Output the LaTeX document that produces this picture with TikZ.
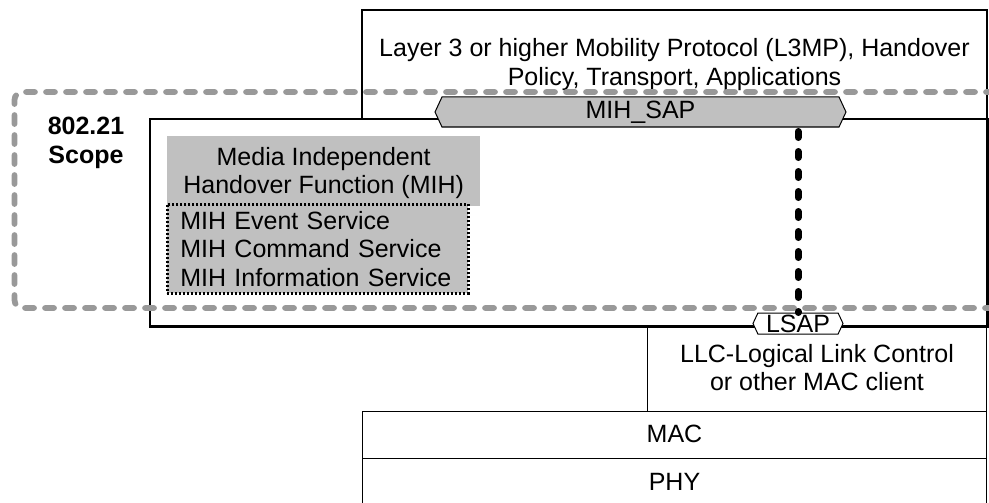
\documentclass[tikz,border=0pt]{standalone}
\usepackage{fontspec}
\setmainfont{Liberation Sans}
\usetikzlibrary{shapes.symbols}
\definecolor{boxgray}{HTML}{C0C0C0}
\definecolor{scopegray}{HTML}{999999}
\tikzset{
  lbl/.style={font=\fontsize{25}{28.5}\selectfont, align=center, inner sep=0pt},
  thickbox/.style={draw=black, line width=2pt, fill=white, inner sep=0pt, anchor=north west},
  thinbox/.style={draw=black, line width=1pt, fill=white, inner sep=0pt, anchor=north west},
  sapshape/.style={signal, signal to=west and east, signal pointer angle=130,
     draw=black, line width=1pt, inner sep=0pt,
     font=\fontsize{25}{28.5}\selectfont},
  scopeline/.style={draw=scopegray, line width=5.7pt, line cap=round, dash pattern=on 9pt off 11pt, rounded corners=8pt},
  linkline/.style={draw=black, line width=7pt, line cap=round, dash pattern=on 6pt off 14pt},
}
\begin{document}
\begin{tikzpicture}[x=1pt,y=-1pt]
\useasboundingbox (0,0) rectangle (989,503);
% top box
\node[thickbox, minimum width=625pt, minimum height=109pt] (top) at (361,9) {};
\node[lbl] (toptext) at (top.center) {Layer 3 or higher Mobility Protocol (L3MP), Handover\\Policy, Transport, Applications};
% main box
\node[thickbox, minimum width=837pt, minimum height=207pt] (main) at (149,118) {};
% LLC, MAC, PHY
\node[thinbox, minimum width=339pt, minimum height=86pt] (llc) at (647,325) {};
\node[lbl] (llctext) at ([yshift=1pt]llc.center) {LLC-Logical Link Control\\or other MAC client};
\node[thinbox, minimum width=624pt, minimum height=47pt] (mac) at (362,411) {};
\node[lbl] (mactext) at ([yshift=1.5pt]mac.center) {MAC};
\node[thinbox, minimum width=624pt, minimum height=46pt] (phy) at (362,458) {};
\node[lbl] (phytext) at (phy.center) {PHY};
% redraw main box border over lower boxes
\draw[line width=2pt] (main.south west) -- (main.south east) -- (main.north east);
% MIH function box
\node[fill=boxgray, inner sep=0pt, anchor=north west, minimum width=313pt, minimum height=70pt] (mih) at (167,136) {};
\node[lbl] (mihtext) at ([yshift=-2pt]mih.center) {Media Independent\\Handover Function (MIH)};
\node[fill=boxgray, draw=black, line width=2.6pt, dash pattern=on 2pt off 2pt, anchor=north west,
      minimum width=301pt, minimum height=89pt, inner xsep=13pt, inner ysep=0pt,
      text width=275pt, align=left, font=\fontsize{25}{28.5}\selectfont] (services) at (166,203)
      {MIH Event Service\\MIH Command Service\\MIH Information Service};
% scope
\node[lbl, font=\bfseries\fontsize{25}{29}\selectfont] (scope) at (86,143) {802.21\\Scope};
\draw[scopeline] (995,92) -- (14.5,92) -- (14.5,308) -- (995,308);
% SAPs
\node[sapshape, fill=boxgray, minimum width=411pt, minimum height=30pt] (mihsap) at (640.5,112) {MIH\_SAP};
\node[sapshape, fill=white, minimum width=90pt, minimum height=21pt] (lsap) at (798,323.5) {LSAP};
\draw[linkline] (mihsap.south -| lsap.north) ++(0,4) coordinate (linktop) (linktop) -- (lsap.north);
\end{tikzpicture}
\end{document}
